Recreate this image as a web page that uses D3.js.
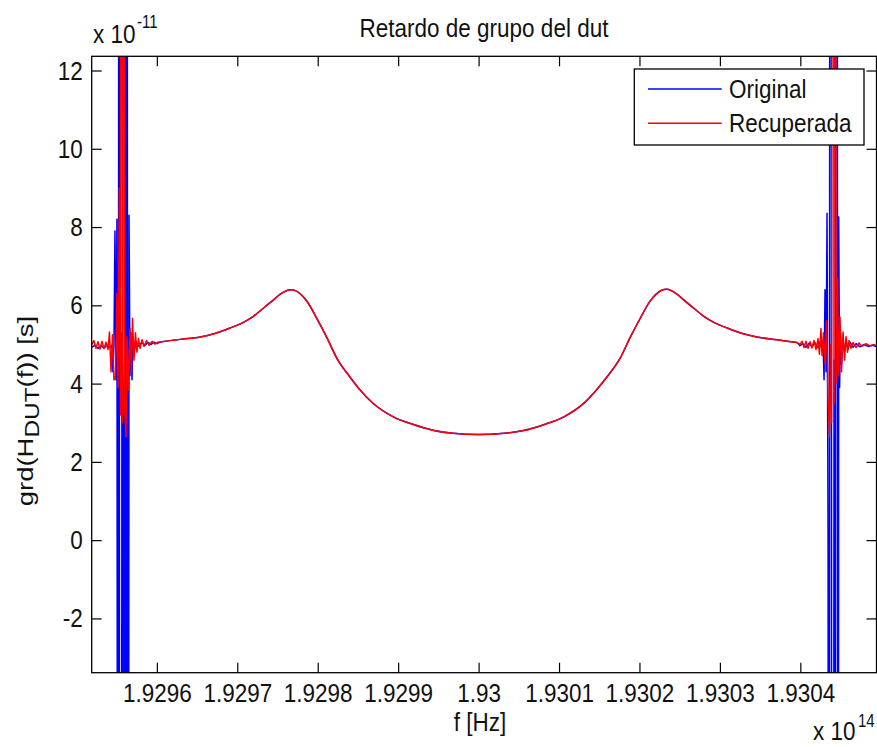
<!DOCTYPE html>
<html>
<head>
<meta charset="utf-8">
<script src="https://cdn.jsdelivr.net/npm/d3@7"></script>
<style>
  body { margin: 0; background: #fff; }
  text { font-family: "Liberation Sans", Arial, sans-serif; fill: #111; }
</style>
</head>
<body>
<svg id="chart" width="877" height="747"></svg>
<script>
// centre frequency, offsets below are in GHz, delays in units of 1e-11 s
const centerHz = 1.93e14;

const xTickLabels = ["1.9296", "1.9297", "1.9298", "1.9299", "1.93", "1.9301", "1.9302", "1.9303", "1.9304"];
const yTicks = [-2, 0, 2, 4, 6, 8, 10, 12];

// smooth part, identical for both curves
const smoothGHz = [-39.6, -37.1, -34.6, -32.8, -30.9, -29.3, -28.0, -26.8, -25.5, -24.7, -23.4, -22.7, -21.95,
  -21.3, -20.1, -18.8, -17.6, -16.0, -14.7, -13.1, -10.6, -8.2, -5.7, -3.2, 0,
  3.2, 5.6, 8.1, 10.6, 13.1, 14.7, 16.0, 17.6, 18.8, 20.1, 21.3, 21.95, 22.7, 23.4, 24.7, 25.5, 26.8,
  28.0, 29.3, 30.9, 32.8, 34.6, 37.1, 39.6];
const smoothDelay = [5.06, 5.13, 5.19, 5.28, 5.42, 5.56, 5.72, 5.92, 6.14, 6.28, 6.40, 6.37, 6.25,
  6.09, 5.66, 5.15, 4.64, 4.17, 3.83, 3.49, 3.15, 2.96, 2.81, 2.73, 2.70,
  2.73, 2.80, 2.95, 3.15, 3.50, 3.85, 4.18, 4.65, 5.16, 5.67, 6.10, 6.26, 6.38, 6.41, 6.28, 6.14, 5.92,
  5.72, 5.56, 5.42, 5.28, 5.19, 5.12, 5.05];

// ringing near the band edges, Original
const origLeftGHz = [-48.07, -47.69, -47.32, -46.95, -46.57, -46.20, -45.83, -45.58, -45.46, -45.33, -45.21,
  -45.08, -44.96, -44.83, -44.71, -44.59, -44.46, -44.34, -44.21, -44.09, -43.96, -43.84, -43.71, -43.59,
  -43.46, -43.34, -43.22, -43.09, -42.97, -42.78, -42.60, -42.35, -42.09, -41.84, -41.47, -41.10, -40.72,
  -40.35, -39.98];
const origLeftDelay = [4.93, 4.98, 4.90, 4.97, 4.91, 4.98, 4.92, 4.98, 4.30, 5.00, 7.90,
  4.10, 8.20, -40, 40, -40, -40, 5.30, 3.80, -40, 40, -40, 40, -40,
  8.30, 4.20, 5.30, 4.10, 5.20, 4.85, 5.08, 4.95, 5.02, 5.04, 4.98, 5.05, 5.00,
  5.06, 5.02];
const origRightGHz = [39.96, 40.33, 40.71, 41.08, 41.45, 41.83, 42.20, 42.45, 42.70, 42.82, 42.95, 43.07,
  43.20, 43.32, 43.45, 43.57, 43.69, 43.82, 43.94, 44.07, 44.19, 44.32, 44.44, 44.57, 44.69, 44.77,
  44.88, 45.00, 45.12, 45.31, 45.50, 45.68, 45.93, 46.18, 46.55, 46.93, 47.42, 47.92, 48.42, 48.92, 49.54];
const origRightDelay = [4.97, 5.02, 4.93, 5.03, 4.94, 5.04, 4.92, 5.06, 4.85, 5.10, 4.10, 6.40,
  4.30, 8.35, -0.10, -40, 40, 40, -40, -40, 4.60, -40, 40, 40, -40, 8.26,
  3.90, 5.30, 4.50, 5.15, 4.80, 5.10, 4.88, 5.06, 4.93, 5.02, 4.94, 5.00, 4.95, 4.98, 4.95];

// ringing near the band edges, Recuperada
const recLeftGHz = [-48.07, -47.82, -47.57, -47.32, -47.07, -46.82, -46.57, -46.32, -46.07, -45.89, -45.70,
  -45.51, -45.33, -45.14, -44.96, -44.83, -44.65, -44.52, -44.40, -44.27, -44.15, -44.02, -43.84, -43.71,
  -43.52, -43.34, -43.15, -43.03, -42.84, -42.66, -42.47, -42.28, -42.09, -41.84, -41.59, -41.28, -40.97,
  -40.60, -40.22, -39.85];
const recLeftDelay = [5.00, 5.10, 4.90, 5.07, 4.88, 5.08, 4.89, 5.06, 4.87, 5.32, 4.30,
  5.25, 4.09, 4.20, 6.30, 3.90, 9.00, 3.20, 40, 3.00, 40, 3.50, 2.64, 5.20,
  3.83, 5.40, 4.30, 5.67, 4.60, 5.30, 4.80, 5.15, 4.90, 5.12, 4.95, 5.10, 4.98,
  5.08, 5.01, 5.06];
const recRightGHz = [39.96, 40.21, 40.46, 40.71, 40.96, 41.21, 41.45, 41.70, 41.95, 42.20, 42.38, 42.57,
  42.70, 42.88, 43.07, 43.26, 43.45, 43.63, 43.75, 43.88, 44.07, 44.19, 44.32, 44.44, 44.62, 44.75,
  44.93, 45.12, 45.31, 45.50, 45.68, 45.87, 46.05, 46.30, 46.55, 46.93, 47.30, 47.67, 48.17, 48.66,
  49.16, 49.54];
const recRightDelay = [5.00, 5.08, 4.92, 5.08, 4.90, 5.07, 4.91, 5.10, 4.87, 5.15, 4.75, 5.41,
  4.72, 5.30, 4.50, 5.60, 3.60, 2.64, 5.00, 3.00, 40, 3.50, 40, 4.00, 6.70, 4.20,
  5.70, 4.30, 5.32, 4.60, 5.20, 4.80, 5.10, 4.90, 5.05, 4.92, 5.04, 4.95, 5.02, 4.96,
  5.00, 4.96];

const seriesNames = ["Original", "Recuperada"];
const seriesColors = ["#0000ff", "#ff0000"];

const fontSize = 22.5, stretch = 1.18;
const plot = {left: 91.7, right: 876.5, top: 56.3, bottom: 672.7};

const svg = d3.select("#chart");

const x = d3.scaleLinear()
    .domain([centerHz - 48.1e9, centerHz + 49.47e9])
    .range([plot.left, plot.right]);
const y = d3.scaleLinear()
    .domain([-3.387, 12.363])
    .range([plot.bottom, plot.top]);

function pts(ghz, vals) {
    return ghz.map((g, i) => ({f: centerHz + g * 1e9, v: vals[i]}));
}

svg.append("clipPath").attr("id", "clip")
    .append("rect")
    .attr("x", plot.left).attr("y", plot.top)
    .attr("width", plot.right - plot.left).attr("height", plot.bottom - plot.top);

const lineLin = d3.line().x(d => x(d.f)).y(d => y(d.v));
const lineSmooth = d3.line().x(d => x(d.f)).y(d => y(d.v)).curve(d3.curveMonotoneX);

let smooth = pts(smoothGHz, smoothDelay);
let series = [
    {left: pts(origLeftGHz, origLeftDelay), right: pts(origRightGHz, origRightDelay)},
    {left: pts(recLeftGHz, recLeftDelay), right: pts(recRightGHz, recRightDelay)}
];

let dataG = svg.append("g").attr("clip-path", "url(#clip)");
series.forEach(function (s, i) {
    let g = dataG.append("g")
        .attr("fill", "none")
        .attr("stroke", seriesColors[i])
        .attr("stroke-width", 1.5)
        .attr("stroke-linejoin", "round");
    g.append("path").attr("d", lineLin(s.left.concat([smooth[0]])));
    g.append("path").attr("d", lineSmooth(smooth));
    g.append("path").attr("d", lineLin([smooth[smooth.length - 1]].concat(s.right)));
});

// axes, ticks inward on all four sides
const xTickValues = xTickLabels.map(s => +s * 1e14);
const fmtX = d => xTickLabels[xTickValues.indexOf(d)];

function styleAxis(g) {
    g.select(".domain").remove();
    g.attr("font-size", fontSize).attr("font-family", null);
    g.selectAll(".tick line").attr("stroke", "#000").attr("stroke-width", 1.2);
    g.selectAll("text").attr("transform", `scale(1,${stretch})`);
}

svg.append("g")
    .attr("transform", `translate(0,${plot.bottom})`)
    .call(d3.axisBottom(x).tickValues(xTickValues).tickFormat(fmtX)
        .tickSizeInner(-10).tickSizeOuter(0).tickPadding(8.5))
    .call(styleAxis);

svg.append("g")
    .attr("transform", `translate(0,${plot.top})`)
    .call(d3.axisTop(x).tickValues(xTickValues).tickFormat("")
        .tickSizeInner(-10).tickSizeOuter(0))
    .call(styleAxis);

svg.append("g")
    .attr("transform", `translate(${plot.left},0)`)
    .call(d3.axisLeft(y).tickValues(yTicks).tickFormat(d => String(d))
        .tickSizeInner(-10).tickSizeOuter(0).tickPadding(9))
    .call(styleAxis);

svg.append("g")
    .attr("transform", `translate(${plot.right},0)`)
    .call(d3.axisRight(y).tickValues(yTicks).tickFormat("")
        .tickSizeInner(-10).tickSizeOuter(0))
    .call(styleAxis);

svg.append("rect")
    .attr("x", plot.left).attr("y", plot.top)
    .attr("width", plot.right - plot.left).attr("height", plot.bottom - plot.top)
    .attr("fill", "none").attr("stroke", "#000").attr("stroke-width", 1.3);

// texts
function label(tx, ty, str, anchor, size) {
    return svg.append("text")
        .attr("transform", `translate(${tx},${ty}) scale(1,${stretch})`)
        .attr("text-anchor", anchor || "start")
        .attr("font-size", size || fontSize)
        .text(str);
}

label(484, 37, "Retardo de grupo del dut", "middle");
label(480, 731, "f [Hz]", "middle");
label(813, 740, "x 10");
label(858, 727, "14", "start", 15);
label(93, 43, "x 10");
label(137, 28, "-11", "start", 15);

let ylab = svg.append("text")
    .attr("transform", "translate(33,411) rotate(-90) scale(1.22,1)")
    .attr("text-anchor", "middle")
    .attr("font-size", fontSize);
ylab.append("tspan").text("grd(H");
ylab.append("tspan").attr("dy", 6).attr("font-size", 20).text("DUT");
ylab.append("tspan").attr("dy", -6).text("(f)) [s]");

// legend
const leg = {x: 634.3, y: 69, w: 229.7, h: 76};
let lg = svg.append("g");
lg.append("rect")
    .attr("x", leg.x).attr("y", leg.y).attr("width", leg.w).attr("height", leg.h)
    .attr("fill", "#fff").attr("stroke", "#000").attr("stroke-width", 1.3);
seriesNames.forEach(function (name, i) {
    let cy = 89 + i * 34.3;
    lg.append("line")
        .attr("x1", 648).attr("x2", 721.7)
        .attr("y1", cy).attr("y2", cy)
        .attr("stroke", seriesColors[i]).attr("stroke-width", 1.5);
    label(729, cy + 8.5, name);
});
</script>
</body>
</html>
